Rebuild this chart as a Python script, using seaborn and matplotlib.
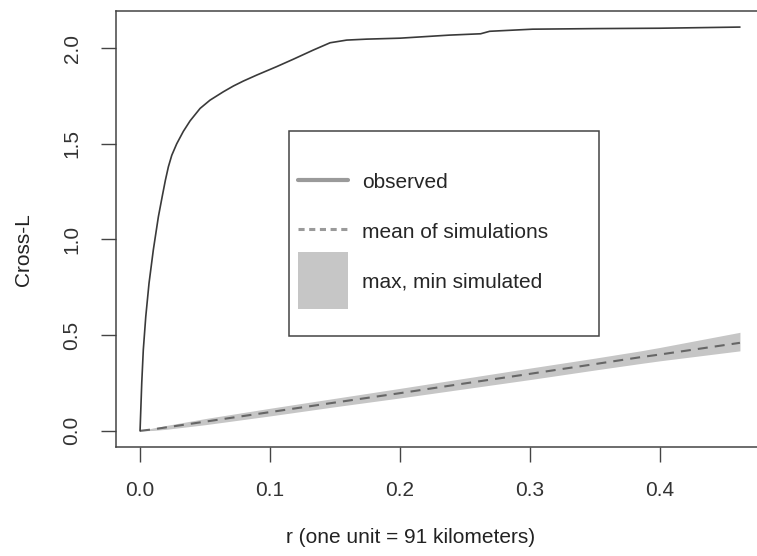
import matplotlib
matplotlib.use("Agg")
import matplotlib.pyplot as plt
from matplotlib.patches import Rectangle, Patch
from matplotlib.lines import Line2D
from matplotlib.legend_handler import HandlerPatch
import seaborn as sns

# observed cross-L function
r_obs = [0.0, 0.0013, 0.0025, 0.0044, 0.0069, 0.0102, 0.0141, 0.0172, 0.0195,
         0.0218, 0.0244, 0.0282, 0.0333, 0.0385, 0.0462, 0.0538, 0.0641,
         0.0718, 0.0795, 0.0897, 0.105, 0.1179, 0.1333, 0.1462, 0.159,
         0.1744, 0.2, 0.238, 0.262, 0.269, 0.302, 0.35, 0.4, 0.4615]
L_obs = [0.0, 0.249, 0.423, 0.597, 0.771, 0.945, 1.119, 1.23, 1.31,
         1.38, 1.44, 1.5, 1.565, 1.62, 1.685, 1.728, 1.772,
         1.802, 1.828, 1.859, 1.903, 1.942, 1.99, 2.028, 2.042,
         2.047, 2.052, 2.068, 2.075, 2.088, 2.099, 2.102, 2.104, 2.11]

# simulation envelope
r_sim = [0.0, 0.01, 0.02, 0.05, 0.1, 0.15, 0.2, 0.25, 0.3, 0.35, 0.385, 0.4, 0.4615]
L_mean = [0.0, 0.008, 0.018, 0.048, 0.098, 0.148, 0.197, 0.248, 0.298, 0.349, 0.385, 0.399, 0.46]
L_lo = [0.0, 0.002, 0.008, 0.032, 0.078, 0.126, 0.172, 0.22, 0.268, 0.318, 0.352, 0.366, 0.418]
L_hi = [0.0, 0.015, 0.028, 0.064, 0.118, 0.17, 0.222, 0.275, 0.328, 0.38, 0.418, 0.436, 0.515]

x_ticks = [0.0, 0.1, 0.2, 0.3, 0.4]
y_ticks = [0.0, 0.5, 1.0, 1.5, 2.0]
legend_labels = ["observed", "mean of simulations", "max, min simulated"]

sns.set_theme(style="white")
plt.rcParams["font.family"] = ["Liberation Sans", "DejaVu Sans"]

fig = plt.figure(figsize=(7.57, 5.56), dpi=100)
W, H = 757, 556
# axes box in pixels: x 116..764 (runs past the right edge), y 11..447
ax = fig.add_axes([116 / W, (H - 447) / H, (764 - 116) / W, (447 - 11) / H])

band_col = "#c6c6c6"
ax.fill_between(r_sim, L_lo, L_hi, color=band_col, linewidth=0)
sns.lineplot(x=r_sim, y=L_mean, ax=ax, color="#666666", linewidth=1.5,
             linestyle=(0, (4.8, 3.4)), sort=False)
sns.lineplot(x=r_obs, y=L_obs, ax=ax, color="#3a3a3a", linewidth=1.2, sort=False)

ax.set_xlim(-0.0185, 0.48)
ax.set_ylim(-0.0844, 2.194)
ax.set_xticks(x_ticks)
ax.set_xticklabels([f"{v:.1f}" for v in x_ticks])
ax.set_yticks(y_ticks)
ax.set_yticklabels([f"{v:.1f}" for v in y_ticks], rotation=90, va="center")

for s in ax.spines.values():
    s.set_color("#444444")
    s.set_linewidth(1.1)
ax.tick_params(axis="both", which="major", direction="out", length=10.8,
               width=1.0, color="#444444", labelsize=15, pad=14,
               labelcolor="#333333", left=True, bottom=True)

ax.set_xlabel("r (one unit = 91 kilometers)", fontsize=15, color="#222222")
ax.set_ylabel("Cross-L", fontsize=15, color="#222222")
ax.xaxis.label.set_va("center")
ax.yaxis.label.set_va("center")
ax.xaxis.set_label_coords(0.455, -0.2087)
ax.yaxis.set_label_coords(-0.1435, 0.452)

# legend frame drawn separately (R-style padding)
ax.add_patch(Rectangle((0.267, 0.255), 0.745 - 0.267, 0.725 - 0.255,
                       transform=ax.transAxes, fill=False,
                       edgecolor="#444444", linewidth=1.1, zorder=5))


def tall_patch(legend, orig_handle, xdescent, ydescent, width, height, fontsize):
    extra = 0.865 * fontsize
    return Rectangle((-xdescent, -ydescent - extra), width, height + 2 * extra)


handles = [
    Line2D([], [], color="#9a9a9a", linewidth=3.0),
    Line2D([], [], color="#9a9a9a", linewidth=2.2, linestyle=(0, (2.0, 1.5))),
    Patch(facecolor=band_col, edgecolor="none"),
]
ax.legend(handles, legend_labels, loc="upper left",
          bbox_to_anchor=(0.281, 0.633), frameon=False, fontsize=15,
          borderpad=0, borderaxespad=0, handlelength=2.4, handleheight=1.15,
          handletextpad=0.67, labelspacing=1.35,
          handler_map={Patch: HandlerPatch(patch_func=tall_patch)})

fig.savefig("out.png", dpi=100)
